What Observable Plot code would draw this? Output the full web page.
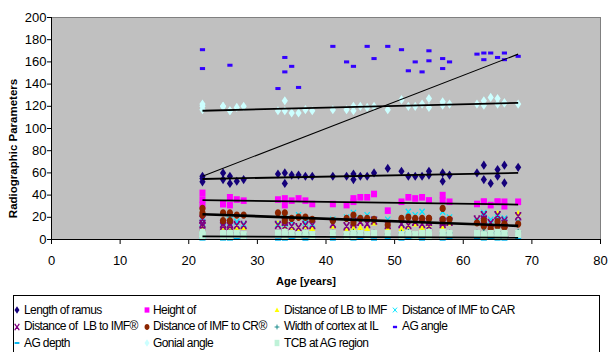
<!DOCTYPE html>
<html><head><meta charset="utf-8">
<script src="https://cdn.jsdelivr.net/npm/d3@7"></script>
<script src="https://cdn.jsdelivr.net/npm/@observablehq/plot@0.6"></script>
<style>
body{margin:0;background:#fff;font-family:"Liberation Sans",Arial,sans-serif;}
#wrap{position:relative;width:608px;height:352px;overflow:hidden;}
#chart{position:absolute;left:0;top:0;}
#legend{position:absolute;left:13px;top:295px;width:587px;height:64px;border:1px solid #000;box-sizing:border-box;background:#fff;}
.item{position:absolute;font-size:12px;letter-spacing:-0.6px;white-space:pre;line-height:14px;color:#000;}
.sw{position:absolute;}
</style></head><body><div id="wrap"><div id="chart"></div><div id="legend"></div></div>
<script>
// ---- data ----
const ages     = [22,22,22,25,25,26,26,27,28,33,34,34,35,36,37,38,41,43,44,44,45,46,47,49,51,52,53,54,55,55,57,57,58,62,63,63,64,65,65,66,66,68];
const ramus    = [57,52,55,60,54,57,50.5,52.5,54,59,60,50.5,58,58,57,57,57,57,59,54,57,57,60,64,61.5,57,57,57,61.5,58,60,52.5,58,60,67,54,50.5,63,57,67,51,65];
const heightOf = [42,36,31,32,32,38,31,36,35,36,37,31,35,37,35,32,32,31,34,37,38,38,41,26,34,38,37,38,35,35,40,35,34,32,34,34,31,34,34,34,30,34];
const lbImf    = [13,10,10,10,12,10,12,11,11,15,12,10,10,10,12,10,12,9,13,10,11,10,15,11,10,12,14,11,10,14,10,12,15,15,13,18,13,24,15,15,12,24];
const imfCar   = [20,15,14,16,14,18,15,16,14,14,20,14,16,22,15,14,18,20,24,18,19,22,18,18,14,25,22,25,18,16,25,18,20,16,24,20,18,20,22,19,16,16];
const lbImfR   = [18,14,12,12,14,12,14,13,13,13,16,12,12,11,13,13,14,12,16,14,16,14,17,13,14,13,16,14,16,12,14,16,16,18,22,18,15,22,16,17,14,21];
const imfCrR   = [28,22,24,24,17,24,17,22,22,24,24,17,19,20,20,18,17,19,22,15,19,19,18,13,19,20,19,19,19,19,28,18,18,15,12,17,10,12,16,14,11,14];
const cortexIL = [5,7,4,6,5,5,7,6,5,6,7,5,6,5,6,5,6,5,7,5,6,5,6,5,6,7,5,6,7,5,6,5,6,6,7,5,6,7,5,6,5,7];
const agAngle  = [171,154,null,null,null,157,null,null,null,136,164,151,156,137,null,null,174,160,156,null,null,174,163,174,171,152,160,151,170,161,163,154,160,167,168,162,168,164,null,168,162,165];
const agDepth  = [1,0,1,1,0,1,0,1,1,0,1,0,1,1,0,1,0,1,1,0,1,1,0,1,0,1,1,0,1,1,0,1,1,1,0,1,1,0,1,1,0,1];
const gonial   = [122,117,120,120,120,116,116,119,120,116,125,116,114,114,117,116,117,117,116,120,120,119,120,117,126,120,120,122,127,119,124,121,122,122,125,121,128,127,122,123,123,122];
const tcbAG    = [6,3,4,5,3,5,3,5,4,5,6,4,5,4,5,4,5,4,5,3,5,4,5,5,4,5,4,5,6,3,6,4,5,5,3,4,5,6,3,5,4,5];

const trendAges  = [22, 68];
const trendNames = ["Length of ramus","Height of","Distance of IMF to CR®","TCB at AG region","Gonial angle","AG angle"];
const trendStart = [54.5, 35.5, 22.8, 2.8, 116, 57];
const trendEnd   = [60, 31.5, 12.3, 1.6, 123, 167];

const xTicks = [0,10,20,30,40,50,60,70,80];
const yTicks = [0,20,40,60,80,100,120,140,160,180,200];
const xTitle = "Age [years]";
const yTitle = "Radiographic Parameters";

// ---- marker shapes ----
function ell(rx, ry){return {draw(c){const k=0.5523;c.moveTo(rx,0);c.bezierCurveTo(rx,ry*k,rx*k,ry,0,ry);c.bezierCurveTo(-rx*k,ry,-rx,ry*k,-rx,0);c.bezierCurveTo(-rx,-ry*k,-rx*k,-ry,0,-ry);c.bezierCurveTo(rx*k,-ry,rx,-ry*k,rx,0);c.closePath();}};}
const sym = {
  diamond:{draw(c){c.moveTo(0,-4.6);c.lineTo(3.1,0);c.lineTo(0,4.6);c.lineTo(-3.1,0);c.closePath();}},
  square:{draw(c){c.rect(-3,-3.3,6,6.6);}},
  triangle:{draw(c){c.moveTo(0,-3.2);c.lineTo(3,2.6);c.lineTo(-3,2.6);c.closePath();}},
  xmark:{draw(c){c.moveTo(-2.6,-3.4);c.lineTo(2.6,3.4);c.moveTo(2.6,-3.4);c.lineTo(-2.6,3.4);c.moveTo(-3.2,-3.4);c.lineTo(-1.4,-3.4);c.moveTo(1.4,-3.4);c.lineTo(3.2,-3.4);c.moveTo(-3.2,3.4);c.lineTo(-1.4,3.4);c.moveTo(1.4,3.4);c.lineTo(3.2,3.4);}},
  cross:{draw(c){c.moveTo(-2.6,-3);c.lineTo(2.6,3);c.moveTo(2.6,-3);c.lineTo(-2.6,3);}},
  circle: ell(3.1,3.7),
  plus:{draw(c){c.moveTo(-3,0);c.lineTo(3,0);c.moveTo(0,-3);c.lineTo(0,3);}},
  dash:{draw(c){c.rect(-2.6,-1.5,5.2,3);}},
  dash2:{draw(c){c.rect(-3,-1.2,6,2.4);}},
  block:{draw(c){c.rect(-3,-4,6,8);}}
};

const series = [
  {name:"Length of ramus", values:ramus, fill:"#14007a", shape:"diamond"},
  {name:"Height of", values:heightOf, fill:"#ff00ff", shape:"square"},
  {name:"Distance of LB to IMF", values:lbImf, fill:"#ffff00", shape:"triangle"},
  {name:"Distance of IMF to CAR", values:imfCar, stroke:"#00e5ff", shape:"cross", sw:1.2},
  {name:"Distance of  LB to IMF®", values:lbImfR, stroke:"#800080", shape:"xmark", sw:1.6},
  {name:"Distance of IMF to CR®", values:imfCrR, fill:"#8b2500", shape:"circle"},
  {name:"Width of cortex at IL", values:cortexIL, stroke:"#008080", shape:"plus", sw:1.1},
  {name:"AG angle", values:agAngle, fill:"#3300ff", shape:"dash"},
  {name:"AG depth", values:agDepth, fill:"#00b4f0", shape:"dash2"},
  {name:"Gonial angle", values:gonial, fill:"#ccffff", shape:"diamond"},
  {name:"TCB at AG region", values:tcbAG, fill:"#bff2d8", shape:"block"}
];

const trendStyle = {"Distance of IMF to CR®":2.6, "AG angle":1.1};
const trends = trendNames.map((n,i)=>({name:n, a1:trendAges[0], v1:trendStart[i], a2:trendAges[1], v2:trendEnd[i], w:trendStyle[n]||1.8}));

const dotMarks = series.map(s => {
  const rows = ages.map((a,i)=>({age:a, v:s.values[i]})).filter(d=>d.v!=null);
  return Plot.dot(rows, {x:"age", y:"v", r:4, symbol:sym[s.shape],
    fill: s.fill || "none", stroke: s.stroke || "none", strokeWidth: s.sw || 0});
});

const chart = Plot.plot({
  width:608, height:294,
  marginLeft:51, marginRight:8, marginTop:17, marginBottom:55,
  x:{domain:[0,80]},
  y:{domain:[0,200]},
  style:{fontFamily:"'Liberation Sans', Arial, sans-serif", fontSize:"13px", color:"#000", background:"#fff"},
  marks:[
    Plot.frame({fill:"#c0c0c0", stroke:"#808080"}),
    ...dotMarks,
    ...trends.map(t => Plot.link([t], {x1:"a1", y1:"v1", x2:"a2", y2:"v2", stroke:"#000", strokeWidth:t.w})),
    Plot.ruleX([0], {stroke:"#000"}),
    Plot.ruleY([0], {stroke:"#000"}),
    Plot.axisY({ticks:yTicks, tickSize:4, tickPadding:1, fontSize:13, label:null}),
    Plot.axisX({ticks:xTicks, tickSize:5, tickPadding:11, fontSize:13, label:null}),
    Plot.text([xTitle], {text:d=>d, frameAnchor:"bottom", lineAnchor:"middle", textAnchor:"middle", dx:-20, dy:42, fontWeight:"bold", fontSize:11}),
    Plot.text([yTitle], {text:d=>d, frameAnchor:"left", lineAnchor:"middle", textAnchor:"middle", rotate:-90, dx:-38, dy:20, fontWeight:"bold", fontSize:11.5})
  ]
});
document.getElementById("chart").appendChild(chart);

// ---- legend ----
const legend = document.getElementById("legend");
const colMarker = [3,133,263,381];
const colText = [10,139,270,388];
const rowY = [14,30.5,47];
series.forEach((s,i)=>{
  const col = i % 4, row = Math.floor(i/4);
  const p = d3.path(); sym[s.shape].draw(p);
  const sv = document.createElementNS("http://www.w3.org/2000/svg","svg");
  sv.setAttribute("width",12); sv.setAttribute("height",12);
  sv.setAttribute("class","sw");
  sv.style.left = (colMarker[col]-6)+"px"; sv.style.top = (rowY[row]-6)+"px";
  const path = document.createElementNS("http://www.w3.org/2000/svg","path");
  path.setAttribute("d", p.toString());
  path.setAttribute("transform","translate(6,6) scale(0.8)");
  path.setAttribute("fill", s.fill || "none");
  path.setAttribute("stroke", s.stroke || "none");
  path.setAttribute("stroke-width", s.sw || 0);
  sv.appendChild(path);
  legend.appendChild(sv);
  const t = document.createElement("div");
  t.className = "item"; t.textContent = s.name;
  t.style.left = colText[col]+"px"; t.style.top = (rowY[row]-7.5)+"px";
  legend.appendChild(t);
});
</script></body></html>
